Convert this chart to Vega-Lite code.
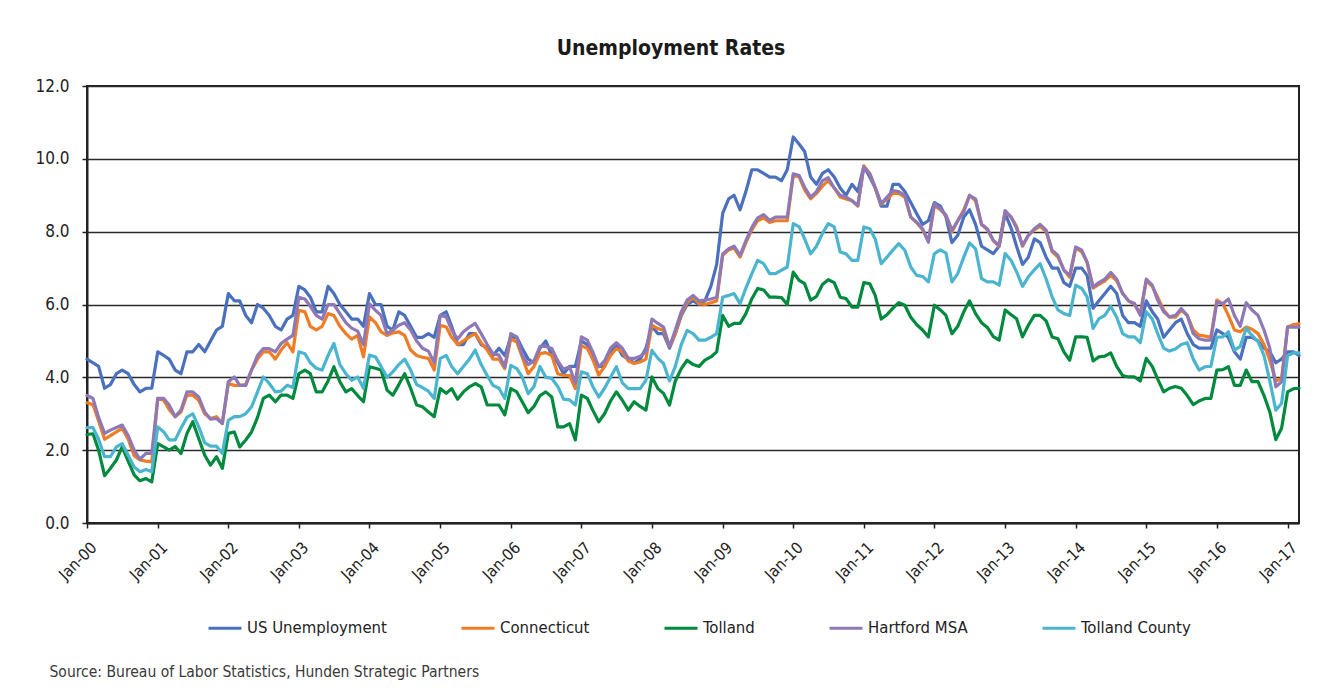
{
  "$schema": "https://vega.github.io/schema/vega-lite/v6.json",
  "width": 1212,
  "height": 437,
  "autosize": {"type": "none"},
  "padding": {"left": 87, "top": 86, "right": 32, "bottom": 168},
  "background": "white",
  "title": {
    "text": "Unemployment Rates",
    "anchor": "middle",
    "frame": "group",
    "baseline": "alphabetic",
    "offset": 37,
    "dx": -22,
    "dy": 36,
    "font": "DejaVu Sans Condensed, sans-serif",
    "fontSize": 21,
    "fontWeight": "bold",
    "color": "#1a1a1a"
  },
  "encoding": {
    "x": {
      "field": "month",
      "type": "temporal",
      "scale": {
        "type": "utc",
        "domain": [
          {"year": 2000, "month": 1, "date": 1, "utc": true},
          {"year": 2017, "month": 3, "date": 1, "utc": true}
        ]
      },
      "axis": {
        "values": [
          {"year": 2000, "month": 1, "date": 1, "utc": true},
          {"year": 2001, "month": 1, "date": 1, "utc": true},
          {"year": 2002, "month": 1, "date": 1, "utc": true},
          {"year": 2003, "month": 1, "date": 1, "utc": true},
          {"year": 2004, "month": 1, "date": 1, "utc": true},
          {"year": 2005, "month": 1, "date": 1, "utc": true},
          {"year": 2006, "month": 1, "date": 1, "utc": true},
          {"year": 2007, "month": 1, "date": 1, "utc": true},
          {"year": 2008, "month": 1, "date": 1, "utc": true},
          {"year": 2009, "month": 1, "date": 1, "utc": true},
          {"year": 2010, "month": 1, "date": 1, "utc": true},
          {"year": 2011, "month": 1, "date": 1, "utc": true},
          {"year": 2012, "month": 1, "date": 1, "utc": true},
          {"year": 2013, "month": 1, "date": 1, "utc": true},
          {"year": 2014, "month": 1, "date": 1, "utc": true},
          {"year": 2015, "month": 1, "date": 1, "utc": true},
          {"year": 2016, "month": 1, "date": 1, "utc": true},
          {"year": 2017, "month": 1, "date": 1, "utc": true}
        ],
        "format": "%b-%y",
        "grid": false,
        "labelAngle": -45,
        "labelAlign": "right",
        "labelBaseline": "top",
        "labelOffset": 1,
        "labelPadding": 11,
        "labelFontSize": 16,
        "labelColor": "#222222",
        "labelOverlap": false,
        "tickSize": 5,
        "tickWidth": 1.5,
        "tickColor": "#222222",
        "domainColor": "#222222",
        "domainWidth": 2,
        "title": "Source: Bureau of Labor Statistics, Hunden Strategic Partners",
        "titleAlign": "left",
        "titleAnchor": "start",
        "titleBaseline": "alphabetic",
        "titleX": -38,
        "titleY": 153,
        "titleFontSize": 15.5,
        "titleFontWeight": "normal",
        "titleColor": "#3a3a3a"
      }
    },
    "y": {
      "field": "rate",
      "type": "quantitative",
      "scale": {"domain": [0, 12], "nice": false, "zero": true},
      "axis": {
        "values": [0, 2, 4, 6, 8, 10, 12],
        "format": ".1f",
        "grid": true,
        "gridColor": "#2a2a2a",
        "gridWidth": 1.6,
        "labelFontSize": 17,
        "labelColor": "#222222",
        "labelPadding": 13,
        "tickSize": 5,
        "tickWidth": 1.5,
        "tickColor": "#222222",
        "domainColor": "#222222",
        "domainWidth": 2,
        "title": null
      }
    }
  },
  "layer": [
    {
      "data": {"values": [
        {"month":"2000-01","rate":4.5},{"month":"2000-02","rate":4.4},{"month":"2000-03","rate":4.3},{"month":"2000-04","rate":3.7},{"month":"2000-05","rate":3.8},{"month":"2000-06","rate":4.1},{"month":"2000-07","rate":4.2},{"month":"2000-08","rate":4.1},{"month":"2000-09","rate":3.8},{"month":"2000-10","rate":3.6},{"month":"2000-11","rate":3.7},{"month":"2000-12","rate":3.7},
        {"month":"2001-01","rate":4.7},{"month":"2001-02","rate":4.6},{"month":"2001-03","rate":4.5},{"month":"2001-04","rate":4.2},{"month":"2001-05","rate":4.1},{"month":"2001-06","rate":4.7},{"month":"2001-07","rate":4.7},{"month":"2001-08","rate":4.9},{"month":"2001-09","rate":4.7},{"month":"2001-10","rate":5.0},{"month":"2001-11","rate":5.3},{"month":"2001-12","rate":5.4},
        {"month":"2002-01","rate":6.3},{"month":"2002-02","rate":6.1},{"month":"2002-03","rate":6.1},{"month":"2002-04","rate":5.7},{"month":"2002-05","rate":5.5},{"month":"2002-06","rate":6.0},{"month":"2002-07","rate":5.9},{"month":"2002-08","rate":5.7},{"month":"2002-09","rate":5.4},{"month":"2002-10","rate":5.3},{"month":"2002-11","rate":5.6},{"month":"2002-12","rate":5.7},
        {"month":"2003-01","rate":6.5},{"month":"2003-02","rate":6.4},{"month":"2003-03","rate":6.2},{"month":"2003-04","rate":5.8},{"month":"2003-05","rate":5.8},{"month":"2003-06","rate":6.5},{"month":"2003-07","rate":6.3},{"month":"2003-08","rate":6.0},{"month":"2003-09","rate":5.8},{"month":"2003-10","rate":5.6},{"month":"2003-11","rate":5.6},{"month":"2003-12","rate":5.4},
        {"month":"2004-01","rate":6.3},{"month":"2004-02","rate":6.0},{"month":"2004-03","rate":6.0},{"month":"2004-04","rate":5.4},{"month":"2004-05","rate":5.3},{"month":"2004-06","rate":5.8},{"month":"2004-07","rate":5.7},{"month":"2004-08","rate":5.4},{"month":"2004-09","rate":5.1},{"month":"2004-10","rate":5.1},{"month":"2004-11","rate":5.2},{"month":"2004-12","rate":5.1},
        {"month":"2005-01","rate":5.7},{"month":"2005-02","rate":5.8},{"month":"2005-03","rate":5.4},{"month":"2005-04","rate":4.9},{"month":"2005-05","rate":4.9},{"month":"2005-06","rate":5.2},{"month":"2005-07","rate":5.2},{"month":"2005-08","rate":4.9},{"month":"2005-09","rate":4.8},{"month":"2005-10","rate":4.6},{"month":"2005-11","rate":4.8},{"month":"2005-12","rate":4.6},
        {"month":"2006-01","rate":5.1},{"month":"2006-02","rate":5.1},{"month":"2006-03","rate":4.8},{"month":"2006-04","rate":4.5},{"month":"2006-05","rate":4.4},{"month":"2006-06","rate":4.8},{"month":"2006-07","rate":5.0},{"month":"2006-08","rate":4.6},{"month":"2006-09","rate":4.4},{"month":"2006-10","rate":4.1},{"month":"2006-11","rate":4.3},{"month":"2006-12","rate":4.3},
        {"month":"2007-01","rate":5.0},{"month":"2007-02","rate":4.9},{"month":"2007-03","rate":4.5},{"month":"2007-04","rate":4.3},{"month":"2007-05","rate":4.3},{"month":"2007-06","rate":4.7},{"month":"2007-07","rate":4.9},{"month":"2007-08","rate":4.6},{"month":"2007-09","rate":4.5},{"month":"2007-10","rate":4.4},{"month":"2007-11","rate":4.5},{"month":"2007-12","rate":4.8},
        {"month":"2008-01","rate":5.4},{"month":"2008-02","rate":5.2},{"month":"2008-03","rate":5.2},{"month":"2008-04","rate":4.8},{"month":"2008-05","rate":5.2},{"month":"2008-06","rate":5.7},{"month":"2008-07","rate":6.0},{"month":"2008-08","rate":6.1},{"month":"2008-09","rate":6.0},{"month":"2008-10","rate":6.1},{"month":"2008-11","rate":6.5},{"month":"2008-12","rate":7.1},
        {"month":"2009-01","rate":8.5},{"month":"2009-02","rate":8.9},{"month":"2009-03","rate":9.0},{"month":"2009-04","rate":8.6},{"month":"2009-05","rate":9.1},{"month":"2009-06","rate":9.7},{"month":"2009-07","rate":9.7},{"month":"2009-08","rate":9.6},{"month":"2009-09","rate":9.5},{"month":"2009-10","rate":9.5},{"month":"2009-11","rate":9.4},{"month":"2009-12","rate":9.7},
        {"month":"2010-01","rate":10.6},{"month":"2010-02","rate":10.4},{"month":"2010-03","rate":10.2},{"month":"2010-04","rate":9.5},{"month":"2010-05","rate":9.3},{"month":"2010-06","rate":9.6},{"month":"2010-07","rate":9.7},{"month":"2010-08","rate":9.5},{"month":"2010-09","rate":9.2},{"month":"2010-10","rate":9.0},{"month":"2010-11","rate":9.3},{"month":"2010-12","rate":9.1},
        {"month":"2011-01","rate":9.8},{"month":"2011-02","rate":9.5},{"month":"2011-03","rate":9.2},{"month":"2011-04","rate":8.7},{"month":"2011-05","rate":8.7},{"month":"2011-06","rate":9.3},{"month":"2011-07","rate":9.3},{"month":"2011-08","rate":9.1},{"month":"2011-09","rate":8.8},{"month":"2011-10","rate":8.5},{"month":"2011-11","rate":8.2},{"month":"2011-12","rate":8.3},
        {"month":"2012-01","rate":8.8},{"month":"2012-02","rate":8.7},{"month":"2012-03","rate":8.4},{"month":"2012-04","rate":7.7},{"month":"2012-05","rate":7.9},{"month":"2012-06","rate":8.4},{"month":"2012-07","rate":8.6},{"month":"2012-08","rate":8.2},{"month":"2012-09","rate":7.6},{"month":"2012-10","rate":7.5},{"month":"2012-11","rate":7.4},{"month":"2012-12","rate":7.6},
        {"month":"2013-01","rate":8.5},{"month":"2013-02","rate":8.1},{"month":"2013-03","rate":7.6},{"month":"2013-04","rate":7.1},{"month":"2013-05","rate":7.3},{"month":"2013-06","rate":7.8},{"month":"2013-07","rate":7.7},{"month":"2013-08","rate":7.3},{"month":"2013-09","rate":7.0},{"month":"2013-10","rate":7.0},{"month":"2013-11","rate":6.6},{"month":"2013-12","rate":6.5},
        {"month":"2014-01","rate":7.0},{"month":"2014-02","rate":7.0},{"month":"2014-03","rate":6.8},{"month":"2014-04","rate":5.9},{"month":"2014-05","rate":6.1},{"month":"2014-06","rate":6.3},{"month":"2014-07","rate":6.5},{"month":"2014-08","rate":6.3},{"month":"2014-09","rate":5.7},{"month":"2014-10","rate":5.5},{"month":"2014-11","rate":5.5},{"month":"2014-12","rate":5.4},
        {"month":"2015-01","rate":6.1},{"month":"2015-02","rate":5.8},{"month":"2015-03","rate":5.6},{"month":"2015-04","rate":5.1},{"month":"2015-05","rate":5.3},{"month":"2015-06","rate":5.5},{"month":"2015-07","rate":5.6},{"month":"2015-08","rate":5.2},{"month":"2015-09","rate":4.9},{"month":"2015-10","rate":4.8},{"month":"2015-11","rate":4.8},{"month":"2015-12","rate":4.8},
        {"month":"2016-01","rate":5.3},{"month":"2016-02","rate":5.2},{"month":"2016-03","rate":5.1},{"month":"2016-04","rate":4.7},{"month":"2016-05","rate":4.5},{"month":"2016-06","rate":5.1},{"month":"2016-07","rate":5.1},{"month":"2016-08","rate":5.0},{"month":"2016-09","rate":4.8},{"month":"2016-10","rate":4.7},{"month":"2016-11","rate":4.4},{"month":"2016-12","rate":4.5},
        {"month":"2017-01","rate":4.7},{"month":"2017-02","rate":4.7},{"month":"2017-03","rate":4.6}
      ], "format": {"parse": {"month": "utc:'%Y-%m'"}}},
      "mark": {"type": "line", "strokeWidth": 3.2, "strokeJoin": "round", "strokeCap": "round"},
      "encoding": {
        "color": {
          "datum": "US Unemployment",
          "type": "nominal",
          "scale": {
            "domain": ["US Unemployment", "Connecticut", "Tolland", "Hartford MSA", "Tolland County"],
            "range": ["#4a70be", "#f07c25", "#008a3e", "#8e78b6", "#4bb5cf"]
          },
          "legend": {
            "orient": "none",
            "legendX": 120,
            "legendY": 524,
            "direction": "horizontal",
            "columns": 5,
            "title": null,
            "padding": 0,
            "symbolType": "stroke",
            "symbolSize": 1089,
            "symbolStrokeWidth": 3,
            "labelFontSize": 16.6,
            "labelColor": "#222222",
            "labelOffset": 4,
            "labelLimit": 300,
            "columnPadding": 68
          }
        }
      }
    },
    {
      "data": {"values": [
        {"month":"2000-01","rate":3.3},{"month":"2000-02","rate":3.25},{"month":"2000-03","rate":2.8},{"month":"2000-04","rate":2.3},{"month":"2000-05","rate":2.4},{"month":"2000-06","rate":2.5},{"month":"2000-07","rate":2.6},{"month":"2000-08","rate":2.3},{"month":"2000-09","rate":1.85},{"month":"2000-10","rate":1.73},{"month":"2000-11","rate":1.7},{"month":"2000-12","rate":1.68},
        {"month":"2001-01","rate":3.42},{"month":"2001-02","rate":3.37},{"month":"2001-03","rate":3.12},{"month":"2001-04","rate":2.92},{"month":"2001-05","rate":3.05},{"month":"2001-06","rate":3.51},{"month":"2001-07","rate":3.51},{"month":"2001-08","rate":3.37},{"month":"2001-09","rate":3.0},{"month":"2001-10","rate":2.87},{"month":"2001-11","rate":2.92},{"month":"2001-12","rate":2.73},
        {"month":"2002-01","rate":3.83},{"month":"2002-02","rate":3.78},{"month":"2002-03","rate":3.78},{"month":"2002-04","rate":3.8},{"month":"2002-05","rate":4.2},{"month":"2002-06","rate":4.5},{"month":"2002-07","rate":4.7},{"month":"2002-08","rate":4.7},{"month":"2002-09","rate":4.5},{"month":"2002-10","rate":4.75},{"month":"2002-11","rate":4.95},{"month":"2002-12","rate":4.7},
        {"month":"2003-01","rate":5.84},{"month":"2003-02","rate":5.8},{"month":"2003-03","rate":5.4},{"month":"2003-04","rate":5.3},{"month":"2003-05","rate":5.4},{"month":"2003-06","rate":5.75},{"month":"2003-07","rate":5.7},{"month":"2003-08","rate":5.4},{"month":"2003-09","rate":5.2},{"month":"2003-10","rate":5.05},{"month":"2003-11","rate":5.15},{"month":"2003-12","rate":4.56},
        {"month":"2004-01","rate":5.66},{"month":"2004-02","rate":5.5},{"month":"2004-03","rate":5.25},{"month":"2004-04","rate":5.15},{"month":"2004-05","rate":5.22},{"month":"2004-06","rate":5.25},{"month":"2004-07","rate":5.15},{"month":"2004-08","rate":4.75},{"month":"2004-09","rate":4.6},{"month":"2004-10","rate":4.55},{"month":"2004-11","rate":4.52},{"month":"2004-12","rate":4.2},
        {"month":"2005-01","rate":5.43},{"month":"2005-02","rate":5.38},{"month":"2005-03","rate":5.1},{"month":"2005-04","rate":4.9},{"month":"2005-05","rate":5.0},{"month":"2005-06","rate":5.11},{"month":"2005-07","rate":5.2},{"month":"2005-08","rate":4.95},{"month":"2005-09","rate":4.75},{"month":"2005-10","rate":4.5},{"month":"2005-11","rate":4.5},{"month":"2005-12","rate":4.24},
        {"month":"2006-01","rate":5.06},{"month":"2006-02","rate":4.97},{"month":"2006-03","rate":4.56},{"month":"2006-04","rate":4.1},{"month":"2006-05","rate":4.3},{"month":"2006-06","rate":4.65},{"month":"2006-07","rate":4.68},{"month":"2006-08","rate":4.6},{"month":"2006-09","rate":4.1},{"month":"2006-10","rate":4.05},{"month":"2006-11","rate":4.05},{"month":"2006-12","rate":3.69},
        {"month":"2007-01","rate":4.88},{"month":"2007-02","rate":4.79},{"month":"2007-03","rate":4.5},{"month":"2007-04","rate":4.06},{"month":"2007-05","rate":4.3},{"month":"2007-06","rate":4.6},{"month":"2007-07","rate":4.79},{"month":"2007-08","rate":4.7},{"month":"2007-09","rate":4.45},{"month":"2007-10","rate":4.38},{"month":"2007-11","rate":4.42},{"month":"2007-12","rate":4.5},
        {"month":"2008-01","rate":5.43},{"month":"2008-02","rate":5.34},{"month":"2008-03","rate":5.29},{"month":"2008-04","rate":4.84},{"month":"2008-05","rate":5.2},{"month":"2008-06","rate":5.75},{"month":"2008-07","rate":6.05},{"month":"2008-08","rate":6.2},{"month":"2008-09","rate":6.02},{"month":"2008-10","rate":6.0},{"month":"2008-11","rate":6.05},{"month":"2008-12","rate":6.1},
        {"month":"2009-01","rate":7.35},{"month":"2009-02","rate":7.5},{"month":"2009-03","rate":7.55},{"month":"2009-04","rate":7.3},{"month":"2009-05","rate":7.7},{"month":"2009-06","rate":8.05},{"month":"2009-07","rate":8.3},{"month":"2009-08","rate":8.38},{"month":"2009-09","rate":8.25},{"month":"2009-10","rate":8.3},{"month":"2009-11","rate":8.3},{"month":"2009-12","rate":8.3},
        {"month":"2010-01","rate":9.55},{"month":"2010-02","rate":9.5},{"month":"2010-03","rate":9.15},{"month":"2010-04","rate":8.9},{"month":"2010-05","rate":9.05},{"month":"2010-06","rate":9.25},{"month":"2010-07","rate":9.4},{"month":"2010-08","rate":9.2},{"month":"2010-09","rate":8.95},{"month":"2010-10","rate":8.9},{"month":"2010-11","rate":8.85},{"month":"2010-12","rate":8.7},
        {"month":"2011-01","rate":9.8},{"month":"2011-02","rate":9.6},{"month":"2011-03","rate":9.2},{"month":"2011-04","rate":8.75},{"month":"2011-05","rate":8.9},{"month":"2011-06","rate":9.05},{"month":"2011-07","rate":9.05},{"month":"2011-08","rate":8.95},{"month":"2011-09","rate":8.4},{"month":"2011-10","rate":8.25},{"month":"2011-11","rate":8.05},{"month":"2011-12","rate":7.75},
        {"month":"2012-01","rate":8.72},{"month":"2012-02","rate":8.6},{"month":"2012-03","rate":8.45},{"month":"2012-04","rate":8.0},{"month":"2012-05","rate":8.3},{"month":"2012-06","rate":8.6},{"month":"2012-07","rate":9.0},{"month":"2012-08","rate":8.85},{"month":"2012-09","rate":8.2},{"month":"2012-10","rate":8.05},{"month":"2012-11","rate":7.75},{"month":"2012-12","rate":7.6},
        {"month":"2013-01","rate":8.55},{"month":"2013-02","rate":8.4},{"month":"2013-03","rate":8.15},{"month":"2013-04","rate":7.6},{"month":"2013-05","rate":7.9},{"month":"2013-06","rate":8.05},{"month":"2013-07","rate":8.15},{"month":"2013-08","rate":8.0},{"month":"2013-09","rate":7.45},{"month":"2013-10","rate":7.3},{"month":"2013-11","rate":6.95},{"month":"2013-12","rate":6.75},
        {"month":"2014-01","rate":7.55},{"month":"2014-02","rate":7.45},{"month":"2014-03","rate":7.15},{"month":"2014-04","rate":6.45},{"month":"2014-05","rate":6.55},{"month":"2014-06","rate":6.65},{"month":"2014-07","rate":6.8},{"month":"2014-08","rate":6.65},{"month":"2014-09","rate":6.3},{"month":"2014-10","rate":6.1},{"month":"2014-11","rate":6.0},{"month":"2014-12","rate":5.75},
        {"month":"2015-01","rate":6.65},{"month":"2015-02","rate":6.5},{"month":"2015-03","rate":6.2},{"month":"2015-04","rate":5.85},{"month":"2015-05","rate":5.65},{"month":"2015-06","rate":5.65},{"month":"2015-07","rate":5.85},{"month":"2015-08","rate":5.7},{"month":"2015-09","rate":5.3},{"month":"2015-10","rate":5.16},{"month":"2015-11","rate":5.13},{"month":"2015-12","rate":5.1},
        {"month":"2016-01","rate":6.12},{"month":"2016-02","rate":6.02},{"month":"2016-03","rate":5.7},{"month":"2016-04","rate":5.3},{"month":"2016-05","rate":5.25},{"month":"2016-06","rate":5.38},{"month":"2016-07","rate":5.32},{"month":"2016-08","rate":5.2},{"month":"2016-09","rate":4.9},{"month":"2016-10","rate":4.47},{"month":"2016-11","rate":3.9},{"month":"2016-12","rate":3.97},
        {"month":"2017-01","rate":5.38},{"month":"2017-02","rate":5.45},{"month":"2017-03","rate":5.47}
      ], "format": {"parse": {"month": "utc:'%Y-%m'"}}},
      "mark": {"type": "line", "strokeWidth": 3.2, "strokeJoin": "round", "strokeCap": "round"},
      "encoding": {"color": {"datum": "Connecticut", "type": "nominal"}}
    },
    {
      "data": {"values": [
        {"month":"2000-01","rate":2.43},{"month":"2000-02","rate":2.45},{"month":"2000-03","rate":2.0},{"month":"2000-04","rate":1.3},{"month":"2000-05","rate":1.5},{"month":"2000-06","rate":1.73},{"month":"2000-07","rate":2.09},{"month":"2000-08","rate":1.7},{"month":"2000-09","rate":1.32},{"month":"2000-10","rate":1.16},{"month":"2000-11","rate":1.22},{"month":"2000-12","rate":1.13},
        {"month":"2001-01","rate":2.18},{"month":"2001-02","rate":2.09},{"month":"2001-03","rate":2.0},{"month":"2001-04","rate":2.1},{"month":"2001-05","rate":1.91},{"month":"2001-06","rate":2.46},{"month":"2001-07","rate":2.78},{"month":"2001-08","rate":2.32},{"month":"2001-09","rate":1.86},{"month":"2001-10","rate":1.59},{"month":"2001-11","rate":1.82},{"month":"2001-12","rate":1.5},
        {"month":"2002-01","rate":2.46},{"month":"2002-02","rate":2.5},{"month":"2002-03","rate":2.09},{"month":"2002-04","rate":2.28},{"month":"2002-05","rate":2.5},{"month":"2002-06","rate":2.9},{"month":"2002-07","rate":3.42},{"month":"2002-08","rate":3.51},{"month":"2002-09","rate":3.33},{"month":"2002-10","rate":3.51},{"month":"2002-11","rate":3.51},{"month":"2002-12","rate":3.42},
        {"month":"2003-01","rate":4.1},{"month":"2003-02","rate":4.2},{"month":"2003-03","rate":4.1},{"month":"2003-04","rate":3.6},{"month":"2003-05","rate":3.6},{"month":"2003-06","rate":3.9},{"month":"2003-07","rate":4.29},{"month":"2003-08","rate":3.88},{"month":"2003-09","rate":3.6},{"month":"2003-10","rate":3.69},{"month":"2003-11","rate":3.5},{"month":"2003-12","rate":3.33},
        {"month":"2004-01","rate":4.29},{"month":"2004-02","rate":4.25},{"month":"2004-03","rate":4.2},{"month":"2004-04","rate":3.65},{"month":"2004-05","rate":3.51},{"month":"2004-06","rate":3.8},{"month":"2004-07","rate":4.1},{"month":"2004-08","rate":3.7},{"month":"2004-09","rate":3.24},{"month":"2004-10","rate":3.19},{"month":"2004-11","rate":3.05},{"month":"2004-12","rate":2.92},
        {"month":"2005-01","rate":3.69},{"month":"2005-02","rate":3.56},{"month":"2005-03","rate":3.69},{"month":"2005-04","rate":3.4},{"month":"2005-05","rate":3.6},{"month":"2005-06","rate":3.74},{"month":"2005-07","rate":3.83},{"month":"2005-08","rate":3.74},{"month":"2005-09","rate":3.24},{"month":"2005-10","rate":3.24},{"month":"2005-11","rate":3.24},{"month":"2005-12","rate":2.97},
        {"month":"2006-01","rate":3.69},{"month":"2006-02","rate":3.6},{"month":"2006-03","rate":3.33},{"month":"2006-04","rate":3.03},{"month":"2006-05","rate":3.2},{"month":"2006-06","rate":3.5},{"month":"2006-07","rate":3.6},{"month":"2006-08","rate":3.46},{"month":"2006-09","rate":2.64},{"month":"2006-10","rate":2.64},{"month":"2006-11","rate":2.73},{"month":"2006-12","rate":2.28},
        {"month":"2007-01","rate":3.51},{"month":"2007-02","rate":3.42},{"month":"2007-03","rate":3.1},{"month":"2007-04","rate":2.78},{"month":"2007-05","rate":3.0},{"month":"2007-06","rate":3.35},{"month":"2007-07","rate":3.6},{"month":"2007-08","rate":3.37},{"month":"2007-09","rate":3.1},{"month":"2007-10","rate":3.33},{"month":"2007-11","rate":3.2},{"month":"2007-12","rate":3.1},
        {"month":"2008-01","rate":4.01},{"month":"2008-02","rate":3.69},{"month":"2008-03","rate":3.56},{"month":"2008-04","rate":3.24},{"month":"2008-05","rate":3.9},{"month":"2008-06","rate":4.24},{"month":"2008-07","rate":4.47},{"month":"2008-08","rate":4.35},{"month":"2008-09","rate":4.3},{"month":"2008-10","rate":4.47},{"month":"2008-11","rate":4.56},{"month":"2008-12","rate":4.7},
        {"month":"2009-01","rate":5.7},{"month":"2009-02","rate":5.4},{"month":"2009-03","rate":5.48},{"month":"2009-04","rate":5.48},{"month":"2009-05","rate":5.75},{"month":"2009-06","rate":6.16},{"month":"2009-07","rate":6.44},{"month":"2009-08","rate":6.4},{"month":"2009-09","rate":6.2},{"month":"2009-10","rate":6.2},{"month":"2009-11","rate":6.19},{"month":"2009-12","rate":6.0},
        {"month":"2010-01","rate":6.89},{"month":"2010-02","rate":6.66},{"month":"2010-03","rate":6.57},{"month":"2010-04","rate":6.12},{"month":"2010-05","rate":6.22},{"month":"2010-06","rate":6.55},{"month":"2010-07","rate":6.68},{"month":"2010-08","rate":6.6},{"month":"2010-09","rate":6.2},{"month":"2010-10","rate":6.16},{"month":"2010-11","rate":5.93},{"month":"2010-12","rate":5.93},
        {"month":"2011-01","rate":6.6},{"month":"2011-02","rate":6.57},{"month":"2011-03","rate":6.25},{"month":"2011-04","rate":5.6},{"month":"2011-05","rate":5.72},{"month":"2011-06","rate":5.9},{"month":"2011-07","rate":6.05},{"month":"2011-08","rate":5.98},{"month":"2011-09","rate":5.65},{"month":"2011-10","rate":5.45},{"month":"2011-11","rate":5.3},{"month":"2011-12","rate":5.11},
        {"month":"2012-01","rate":5.98},{"month":"2012-02","rate":5.85},{"month":"2012-03","rate":5.7},{"month":"2012-04","rate":5.2},{"month":"2012-05","rate":5.4},{"month":"2012-06","rate":5.8},{"month":"2012-07","rate":6.1},{"month":"2012-08","rate":5.75},{"month":"2012-09","rate":5.5},{"month":"2012-10","rate":5.37},{"month":"2012-11","rate":5.12},{"month":"2012-12","rate":5.02},
        {"month":"2013-01","rate":5.85},{"month":"2013-02","rate":5.72},{"month":"2013-03","rate":5.61},{"month":"2013-04","rate":5.11},{"month":"2013-05","rate":5.43},{"month":"2013-06","rate":5.7},{"month":"2013-07","rate":5.7},{"month":"2013-08","rate":5.55},{"month":"2013-09","rate":5.11},{"month":"2013-10","rate":5.06},{"month":"2013-11","rate":4.7},{"month":"2013-12","rate":4.47},
        {"month":"2014-01","rate":5.11},{"month":"2014-02","rate":5.11},{"month":"2014-03","rate":5.1},{"month":"2014-04","rate":4.45},{"month":"2014-05","rate":4.56},{"month":"2014-06","rate":4.58},{"month":"2014-07","rate":4.67},{"month":"2014-08","rate":4.3},{"month":"2014-09","rate":4.05},{"month":"2014-10","rate":4.01},{"month":"2014-11","rate":4.01},{"month":"2014-12","rate":3.9},
        {"month":"2015-01","rate":4.52},{"month":"2015-02","rate":4.3},{"month":"2015-03","rate":3.95},{"month":"2015-04","rate":3.6},{"month":"2015-05","rate":3.7},{"month":"2015-06","rate":3.75},{"month":"2015-07","rate":3.7},{"month":"2015-08","rate":3.5},{"month":"2015-09","rate":3.25},{"month":"2015-10","rate":3.35},{"month":"2015-11","rate":3.42},{"month":"2015-12","rate":3.42},
        {"month":"2016-01","rate":4.2},{"month":"2016-02","rate":4.21},{"month":"2016-03","rate":4.29},{"month":"2016-04","rate":3.78},{"month":"2016-05","rate":3.78},{"month":"2016-06","rate":4.2},{"month":"2016-07","rate":3.88},{"month":"2016-08","rate":3.88},{"month":"2016-09","rate":3.5},{"month":"2016-10","rate":3.05},{"month":"2016-11","rate":2.29},{"month":"2016-12","rate":2.6},
        {"month":"2017-01","rate":3.6},{"month":"2017-02","rate":3.69},{"month":"2017-03","rate":3.7}
      ], "format": {"parse": {"month": "utc:'%Y-%m'"}}},
      "mark": {"type": "line", "strokeWidth": 3.2, "strokeJoin": "round", "strokeCap": "round"},
      "encoding": {"color": {"datum": "Tolland", "type": "nominal"}}
    },
    {
      "data": {"values": [
        {"month":"2000-01","rate":3.5},{"month":"2000-02","rate":3.42},{"month":"2000-03","rate":2.9},{"month":"2000-04","rate":2.46},{"month":"2000-05","rate":2.55},{"month":"2000-06","rate":2.62},{"month":"2000-07","rate":2.69},{"month":"2000-08","rate":2.4},{"month":"2000-09","rate":2.0},{"month":"2000-10","rate":1.75},{"month":"2000-11","rate":1.91},{"month":"2000-12","rate":1.91},
        {"month":"2001-01","rate":3.42},{"month":"2001-02","rate":3.42},{"month":"2001-03","rate":3.24},{"month":"2001-04","rate":2.92},{"month":"2001-05","rate":3.1},{"month":"2001-06","rate":3.6},{"month":"2001-07","rate":3.6},{"month":"2001-08","rate":3.46},{"month":"2001-09","rate":3.05},{"month":"2001-10","rate":2.85},{"month":"2001-11","rate":2.87},{"month":"2001-12","rate":2.73},
        {"month":"2002-01","rate":3.88},{"month":"2002-02","rate":4.01},{"month":"2002-03","rate":3.78},{"month":"2002-04","rate":3.78},{"month":"2002-05","rate":4.2},{"month":"2002-06","rate":4.6},{"month":"2002-07","rate":4.79},{"month":"2002-08","rate":4.79},{"month":"2002-09","rate":4.7},{"month":"2002-10","rate":4.93},{"month":"2002-11","rate":5.05},{"month":"2002-12","rate":5.15},
        {"month":"2003-01","rate":6.2},{"month":"2003-02","rate":6.15},{"month":"2003-03","rate":5.95},{"month":"2003-04","rate":5.7},{"month":"2003-05","rate":5.6},{"month":"2003-06","rate":6.0},{"month":"2003-07","rate":6.0},{"month":"2003-08","rate":5.75},{"month":"2003-09","rate":5.5},{"month":"2003-10","rate":5.35},{"month":"2003-11","rate":5.27},{"month":"2003-12","rate":4.9},
        {"month":"2004-01","rate":6.02},{"month":"2004-02","rate":5.84},{"month":"2004-03","rate":5.7},{"month":"2004-04","rate":5.2},{"month":"2004-05","rate":5.3},{"month":"2004-06","rate":5.43},{"month":"2004-07","rate":5.5},{"month":"2004-08","rate":5.3},{"month":"2004-09","rate":5.0},{"month":"2004-10","rate":4.8},{"month":"2004-11","rate":4.72},{"month":"2004-12","rate":4.4},
        {"month":"2005-01","rate":5.7},{"month":"2005-02","rate":5.66},{"month":"2005-03","rate":5.3},{"month":"2005-04","rate":5.05},{"month":"2005-05","rate":5.25},{"month":"2005-06","rate":5.38},{"month":"2005-07","rate":5.48},{"month":"2005-08","rate":5.2},{"month":"2005-09","rate":4.9},{"month":"2005-10","rate":4.65},{"month":"2005-11","rate":4.61},{"month":"2005-12","rate":4.29},
        {"month":"2006-01","rate":5.2},{"month":"2006-02","rate":5.11},{"month":"2006-03","rate":4.61},{"month":"2006-04","rate":4.35},{"month":"2006-05","rate":4.45},{"month":"2006-06","rate":4.85},{"month":"2006-07","rate":4.85},{"month":"2006-08","rate":4.79},{"month":"2006-09","rate":4.45},{"month":"2006-10","rate":4.22},{"month":"2006-11","rate":4.29},{"month":"2006-12","rate":3.83},
        {"month":"2007-01","rate":5.11},{"month":"2007-02","rate":5.02},{"month":"2007-03","rate":4.7},{"month":"2007-04","rate":4.29},{"month":"2007-05","rate":4.45},{"month":"2007-06","rate":4.8},{"month":"2007-07","rate":4.95},{"month":"2007-08","rate":4.8},{"month":"2007-09","rate":4.52},{"month":"2007-10","rate":4.52},{"month":"2007-11","rate":4.58},{"month":"2007-12","rate":4.7},
        {"month":"2008-01","rate":5.6},{"month":"2008-02","rate":5.48},{"month":"2008-03","rate":5.38},{"month":"2008-04","rate":4.84},{"month":"2008-05","rate":5.3},{"month":"2008-06","rate":5.8},{"month":"2008-07","rate":6.12},{"month":"2008-08","rate":6.25},{"month":"2008-09","rate":6.1},{"month":"2008-10","rate":6.12},{"month":"2008-11","rate":6.15},{"month":"2008-12","rate":6.2},
        {"month":"2009-01","rate":7.39},{"month":"2009-02","rate":7.53},{"month":"2009-03","rate":7.6},{"month":"2009-04","rate":7.35},{"month":"2009-05","rate":7.75},{"month":"2009-06","rate":8.12},{"month":"2009-07","rate":8.38},{"month":"2009-08","rate":8.47},{"month":"2009-09","rate":8.31},{"month":"2009-10","rate":8.4},{"month":"2009-11","rate":8.4},{"month":"2009-12","rate":8.4},
        {"month":"2010-01","rate":9.59},{"month":"2010-02","rate":9.54},{"month":"2010-03","rate":9.22},{"month":"2010-04","rate":8.95},{"month":"2010-05","rate":9.1},{"month":"2010-06","rate":9.4},{"month":"2010-07","rate":9.48},{"month":"2010-08","rate":9.2},{"month":"2010-09","rate":9.0},{"month":"2010-10","rate":8.95},{"month":"2010-11","rate":8.85},{"month":"2010-12","rate":8.72},
        {"month":"2011-01","rate":9.77},{"month":"2011-02","rate":9.59},{"month":"2011-03","rate":9.22},{"month":"2011-04","rate":8.77},{"month":"2011-05","rate":8.95},{"month":"2011-06","rate":9.13},{"month":"2011-07","rate":9.1},{"month":"2011-08","rate":9.0},{"month":"2011-09","rate":8.4},{"month":"2011-10","rate":8.26},{"month":"2011-11","rate":8.08},{"month":"2011-12","rate":7.71},
        {"month":"2012-01","rate":8.77},{"month":"2012-02","rate":8.63},{"month":"2012-03","rate":8.45},{"month":"2012-04","rate":8.04},{"month":"2012-05","rate":8.3},{"month":"2012-06","rate":8.55},{"month":"2012-07","rate":8.99},{"month":"2012-08","rate":8.9},{"month":"2012-09","rate":8.2},{"month":"2012-10","rate":8.08},{"month":"2012-11","rate":7.76},{"month":"2012-12","rate":7.62},
        {"month":"2013-01","rate":8.58},{"month":"2013-02","rate":8.4},{"month":"2013-03","rate":8.1},{"month":"2013-04","rate":7.62},{"month":"2013-05","rate":7.9},{"month":"2013-06","rate":8.08},{"month":"2013-07","rate":8.2},{"month":"2013-08","rate":8.04},{"month":"2013-09","rate":7.49},{"month":"2013-10","rate":7.35},{"month":"2013-11","rate":6.94},{"month":"2013-12","rate":6.8},
        {"month":"2014-01","rate":7.58},{"month":"2014-02","rate":7.49},{"month":"2014-03","rate":7.17},{"month":"2014-04","rate":6.48},{"month":"2014-05","rate":6.6},{"month":"2014-06","rate":6.7},{"month":"2014-07","rate":6.88},{"month":"2014-08","rate":6.7},{"month":"2014-09","rate":6.3},{"month":"2014-10","rate":6.1},{"month":"2014-11","rate":6.03},{"month":"2014-12","rate":5.7},
        {"month":"2015-01","rate":6.7},{"month":"2015-02","rate":6.53},{"month":"2015-03","rate":6.12},{"month":"2015-04","rate":5.8},{"month":"2015-05","rate":5.66},{"month":"2015-06","rate":5.7},{"month":"2015-07","rate":5.89},{"month":"2015-08","rate":5.7},{"month":"2015-09","rate":5.2},{"month":"2015-10","rate":5.06},{"month":"2015-11","rate":5.02},{"month":"2015-12","rate":5.02},
        {"month":"2016-01","rate":6.07},{"month":"2016-02","rate":6.02},{"month":"2016-03","rate":6.15},{"month":"2016-04","rate":5.7},{"month":"2016-05","rate":5.4},{"month":"2016-06","rate":6.05},{"month":"2016-07","rate":5.85},{"month":"2016-08","rate":5.7},{"month":"2016-09","rate":5.3},{"month":"2016-10","rate":4.8},{"month":"2016-11","rate":3.74},{"month":"2016-12","rate":3.88},
        {"month":"2017-01","rate":5.38},{"month":"2017-02","rate":5.38},{"month":"2017-03","rate":5.38}
      ], "format": {"parse": {"month": "utc:'%Y-%m'"}}},
      "mark": {"type": "line", "strokeWidth": 3.2, "strokeJoin": "round", "strokeCap": "round"},
      "encoding": {"color": {"datum": "Hartford MSA", "type": "nominal"}}
    },
    {
      "data": {"values": [
        {"month":"2000-01","rate":2.62},{"month":"2000-02","rate":2.62},{"month":"2000-03","rate":2.3},{"month":"2000-04","rate":1.82},{"month":"2000-05","rate":1.82},{"month":"2000-06","rate":2.09},{"month":"2000-07","rate":2.18},{"month":"2000-08","rate":1.86},{"month":"2000-09","rate":1.54},{"month":"2000-10","rate":1.41},{"month":"2000-11","rate":1.47},{"month":"2000-12","rate":1.41},
        {"month":"2001-01","rate":2.64},{"month":"2001-02","rate":2.5},{"month":"2001-03","rate":2.28},{"month":"2001-04","rate":2.28},{"month":"2001-05","rate":2.6},{"month":"2001-06","rate":2.9},{"month":"2001-07","rate":3.0},{"month":"2001-08","rate":2.64},{"month":"2001-09","rate":2.2},{"month":"2001-10","rate":2.11},{"month":"2001-11","rate":2.11},{"month":"2001-12","rate":1.91},
        {"month":"2002-01","rate":2.82},{"month":"2002-02","rate":2.92},{"month":"2002-03","rate":2.92},{"month":"2002-04","rate":3.0},{"month":"2002-05","rate":3.19},{"month":"2002-06","rate":3.6},{"month":"2002-07","rate":4.01},{"month":"2002-08","rate":3.83},{"month":"2002-09","rate":3.6},{"month":"2002-10","rate":3.62},{"month":"2002-11","rate":3.78},{"month":"2002-12","rate":3.72},
        {"month":"2003-01","rate":4.7},{"month":"2003-02","rate":4.65},{"month":"2003-03","rate":4.4},{"month":"2003-04","rate":4.25},{"month":"2003-05","rate":4.2},{"month":"2003-06","rate":4.6},{"month":"2003-07","rate":4.93},{"month":"2003-08","rate":4.35},{"month":"2003-09","rate":4.1},{"month":"2003-10","rate":3.92},{"month":"2003-11","rate":4.01},{"month":"2003-12","rate":3.7},
        {"month":"2004-01","rate":4.61},{"month":"2004-02","rate":4.56},{"month":"2004-03","rate":4.3},{"month":"2004-04","rate":4.0},{"month":"2004-05","rate":4.15},{"month":"2004-06","rate":4.35},{"month":"2004-07","rate":4.5},{"month":"2004-08","rate":4.2},{"month":"2004-09","rate":3.8},{"month":"2004-10","rate":3.72},{"month":"2004-11","rate":3.62},{"month":"2004-12","rate":3.42},
        {"month":"2005-01","rate":4.52},{"month":"2005-02","rate":4.6},{"month":"2005-03","rate":4.3},{"month":"2005-04","rate":4.1},{"month":"2005-05","rate":4.3},{"month":"2005-06","rate":4.5},{"month":"2005-07","rate":4.75},{"month":"2005-08","rate":4.35},{"month":"2005-09","rate":4.05},{"month":"2005-10","rate":3.78},{"month":"2005-11","rate":3.7},{"month":"2005-12","rate":3.42},
        {"month":"2006-01","rate":4.33},{"month":"2006-02","rate":4.24},{"month":"2006-03","rate":4.01},{"month":"2006-04","rate":3.55},{"month":"2006-05","rate":3.75},{"month":"2006-06","rate":4.3},{"month":"2006-07","rate":4.0},{"month":"2006-08","rate":3.97},{"month":"2006-09","rate":3.75},{"month":"2006-10","rate":3.4},{"month":"2006-11","rate":3.38},{"month":"2006-12","rate":3.24},
        {"month":"2007-01","rate":4.15},{"month":"2007-02","rate":4.1},{"month":"2007-03","rate":3.75},{"month":"2007-04","rate":3.46},{"month":"2007-05","rate":3.7},{"month":"2007-06","rate":4.0},{"month":"2007-07","rate":4.29},{"month":"2007-08","rate":3.85},{"month":"2007-09","rate":3.69},{"month":"2007-10","rate":3.69},{"month":"2007-11","rate":3.69},{"month":"2007-12","rate":3.92},
        {"month":"2008-01","rate":4.74},{"month":"2008-02","rate":4.52},{"month":"2008-03","rate":4.38},{"month":"2008-04","rate":3.9},{"month":"2008-05","rate":4.3},{"month":"2008-06","rate":4.9},{"month":"2008-07","rate":5.29},{"month":"2008-08","rate":5.2},{"month":"2008-09","rate":5.02},{"month":"2008-10","rate":5.02},{"month":"2008-11","rate":5.1},{"month":"2008-12","rate":5.2},
        {"month":"2009-01","rate":6.2},{"month":"2009-02","rate":6.25},{"month":"2009-03","rate":6.3},{"month":"2009-04","rate":6.02},{"month":"2009-05","rate":6.45},{"month":"2009-06","rate":6.85},{"month":"2009-07","rate":7.21},{"month":"2009-08","rate":7.12},{"month":"2009-09","rate":6.85},{"month":"2009-10","rate":6.85},{"month":"2009-11","rate":6.94},{"month":"2009-12","rate":7.03},
        {"month":"2010-01","rate":8.22},{"month":"2010-02","rate":8.13},{"month":"2010-03","rate":7.8},{"month":"2010-04","rate":7.39},{"month":"2010-05","rate":7.6},{"month":"2010-06","rate":7.95},{"month":"2010-07","rate":8.22},{"month":"2010-08","rate":8.13},{"month":"2010-09","rate":7.44},{"month":"2010-10","rate":7.39},{"month":"2010-11","rate":7.21},{"month":"2010-12","rate":7.21},
        {"month":"2011-01","rate":8.13},{"month":"2011-02","rate":8.08},{"month":"2011-03","rate":7.8},{"month":"2011-04","rate":7.12},{"month":"2011-05","rate":7.3},{"month":"2011-06","rate":7.5},{"month":"2011-07","rate":7.67},{"month":"2011-08","rate":7.49},{"month":"2011-09","rate":7.03},{"month":"2011-10","rate":6.8},{"month":"2011-11","rate":6.77},{"month":"2011-12","rate":6.62},
        {"month":"2012-01","rate":7.4},{"month":"2012-02","rate":7.5},{"month":"2012-03","rate":7.41},{"month":"2012-04","rate":6.62},{"month":"2012-05","rate":6.85},{"month":"2012-06","rate":7.3},{"month":"2012-07","rate":7.69},{"month":"2012-08","rate":7.53},{"month":"2012-09","rate":6.71},{"month":"2012-10","rate":6.62},{"month":"2012-11","rate":6.62},{"month":"2012-12","rate":6.53},
        {"month":"2013-01","rate":7.4},{"month":"2013-02","rate":7.21},{"month":"2013-03","rate":6.9},{"month":"2013-04","rate":6.5},{"month":"2013-05","rate":6.76},{"month":"2013-06","rate":6.95},{"month":"2013-07","rate":7.12},{"month":"2013-08","rate":6.7},{"month":"2013-09","rate":6.21},{"month":"2013-10","rate":5.85},{"month":"2013-11","rate":5.75},{"month":"2013-12","rate":5.7},
        {"month":"2014-01","rate":6.53},{"month":"2014-02","rate":6.44},{"month":"2014-03","rate":6.21},{"month":"2014-04","rate":5.34},{"month":"2014-05","rate":5.61},{"month":"2014-06","rate":5.7},{"month":"2014-07","rate":5.95},{"month":"2014-08","rate":5.65},{"month":"2014-09","rate":5.2},{"month":"2014-10","rate":5.11},{"month":"2014-11","rate":5.11},{"month":"2014-12","rate":4.95},
        {"month":"2015-01","rate":5.8},{"month":"2015-02","rate":5.6},{"month":"2015-03","rate":5.2},{"month":"2015-04","rate":4.8},{"month":"2015-05","rate":4.72},{"month":"2015-06","rate":4.78},{"month":"2015-07","rate":4.9},{"month":"2015-08","rate":4.95},{"month":"2015-09","rate":4.5},{"month":"2015-10","rate":4.2},{"month":"2015-11","rate":4.29},{"month":"2015-12","rate":4.3},
        {"month":"2016-01","rate":5.1},{"month":"2016-02","rate":5.11},{"month":"2016-03","rate":5.25},{"month":"2016-04","rate":4.75},{"month":"2016-05","rate":4.85},{"month":"2016-06","rate":5.35},{"month":"2016-07","rate":5.15},{"month":"2016-08","rate":4.98},{"month":"2016-09","rate":4.6},{"month":"2016-10","rate":3.9},{"month":"2016-11","rate":3.1},{"month":"2016-12","rate":3.28},
        {"month":"2017-01","rate":4.6},{"month":"2017-02","rate":4.67},{"month":"2017-03","rate":4.67}
      ], "format": {"parse": {"month": "utc:'%Y-%m'"}}},
      "mark": {"type": "line", "strokeWidth": 3.2, "strokeJoin": "round", "strokeCap": "round"},
      "encoding": {"color": {"datum": "Tolland County", "type": "nominal"}}
    }
  ],
  "config": {
    "font": "DejaVu Sans Condensed, sans-serif",
    "view": {"stroke": "#222222", "strokeWidth": 2}
  }
}
